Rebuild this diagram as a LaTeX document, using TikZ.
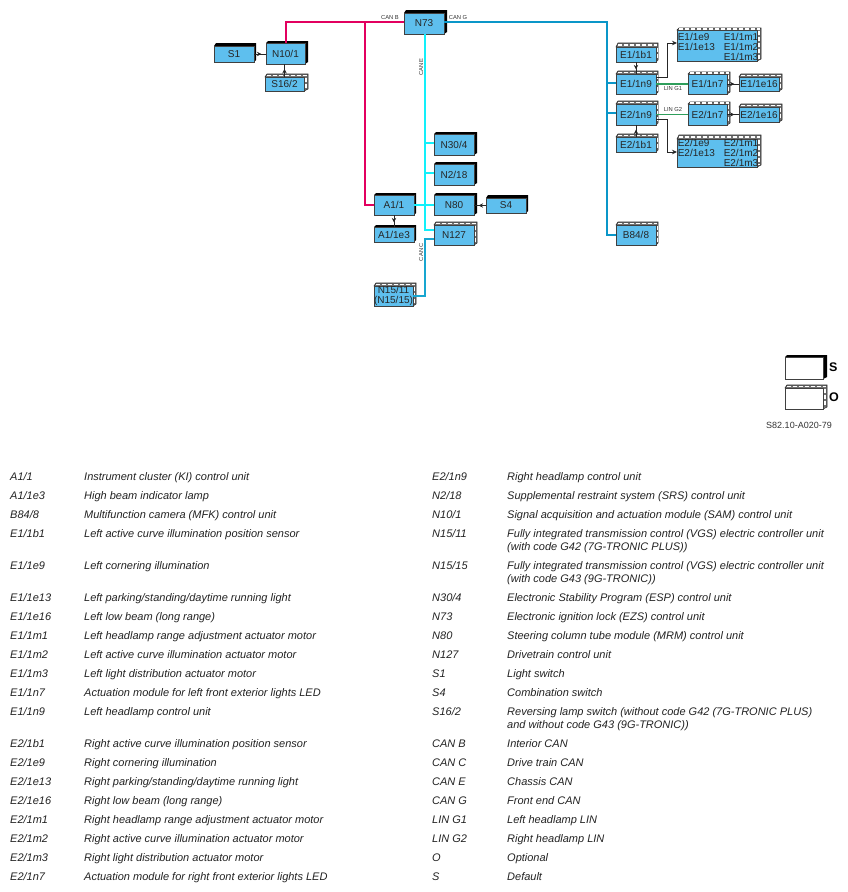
\documentclass[tikz,border=0pt]{standalone}
\usepackage{fontspec}
\setmainfont{Liberation Sans}
\usetikzlibrary{arrows.meta,decorations.markings}
\definecolor{boxblue}{HTML}{5EBFEE}
\definecolor{canb}{HTML}{E2005F}
\definecolor{cane}{HTML}{12F0FA}
\definecolor{cang}{HTML}{0A96C8}
\definecolor{canc}{HTML}{18A6D0}
\definecolor{lin}{HTML}{2E9E5B}
\definecolor{legtext}{HTML}{222222}
\tikzset{
  face/.style={draw=black!75,line width=.6pt,inner sep=0pt,outer sep=0pt,align=center,font=\fontsize{10}{10}\selectfont,text=black!85},
  sdepth/.style={fill=black},
  odepth/.style={fill=black!55,draw=black!85,line width=.6pt},
  hatch/.style={draw=white,line width=1.5pt,dash pattern=on 3.5pt off 2.5pt},
  canbline/.style={draw=canb,line width=2.3pt},
  caneline/.style={draw=cane,line width=2.3pt},
  cangline/.style={draw=cang,line width=2.3pt},
  cancline/.style={draw=canc,line width=2.3pt},
  linline/.style={draw=lin,line width=1.4pt},
  sig/.style={draw=black!85,line width=.8pt},
  sigmid/.style={sig,postaction={decorate},decoration={markings,mark=at position .62 with {\arrow{Stealth[length=4.5pt,width=4.5pt]}}}},
  sigend/.style={sig,-{Stealth[length=5pt,width=4.5pt]}},
  buslabel/.style={font=\fontsize{5.8}{6}\selectfont,text=black!80,inner sep=0pt},
  bigtext/.style={inner sep=0pt,font=\fontsize{10}{10}\selectfont,text=black!85},
  legkey/.style={anchor=base west,inner sep=0pt,font=\fontsize{11}{13}\selectfont\itshape,text=legtext},
  legdesc/.style={anchor=base west,inner sep=0pt,font=\fontsize{11}{13}\selectfont\itshape,text=legtext},
}
\newcommand{\devS}[8][boxblue]{%
  \fill[sdepth] (#3,#4) -- ({#3+2},#7) -- (#8,#7) -- (#8,{#6-2}) -- (#5,#6) -- cycle;%
  \devfaceB{#2}{#3}{#4}{#5}{#6}{#1}%
}
\newcommand{\devO}[8][boxblue]{%
  \filldraw[odepth] (#3,#4) -- ({#3+2},#7) -- (#8,#7) -- (#8,{#6-2}) -- (#5,#6) -- cycle;%
  \draw[hatch] ({#3+2},{(#7+#4)/2}) -- ({#8-1},{(#7+#4)/2});%
  \draw[hatch] ({(#8+#5)/2},{#4+1}) -- ({(#8+#5)/2},{#6-2});%
  \devfaceB{#2}{#3}{#4}{#5}{#6}{#1}%
}
\newcommand{\devfaceB}[6]{\node[face,fill=#6,minimum width={(#4-#2)*1pt},minimum height={(#5-#3)*1pt}] (#1) at ({(#2+#4)/2},{(#3+#5)/2})}
\newcount\legn
\newcommand{\legrow}[5]{\global\advance\legn by 1
  \node[legkey] (key\the\legn) at (#1,{#3+4}) {#4};
  \node[legdesc] (desc\the\legn) at (#2,{#3+4}) {\begin{tabular}[t]{@{}l@{}}#5\end{tabular}};}
\begin{document}
\begin{tikzpicture}[x=1pt,y=-1pt]
\useasboundingbox (0,0) rectangle (848,892);
\devS{n73}{404}{13}{444}{34}{10}{447} {N73};
\devS{s1}{214}{46}{254}{62}{43}{256} {S1};
\devS{n10}{266}{43}{305}{64}{41}{308} {N10/1};
\devO{s162}{265}{77}{304}{91}{74}{308} {S16/2};
\devS{n304}{434}{134}{474}{155}{132}{477} {N30/4};
\devS{n218}{434}{164}{474}{185}{162}{477} {N2/18};
\devS{a1}{374}{195}{414}{215}{193}{416} {A1/1};
\devS{a1e}{374}{227}{414}{242}{225}{416} {A1/1e3};
\devS{n80}{434}{195}{474}{215}{193}{477} {N80};
\devS{s4}{486}{198}{526}{213}{195}{528} {S4};
\devO{n127}{434}{225}{474}{245}{222}{477} {N127};
\devO{n15}{374}{286}{413}{306}{283}{416} {N15/11\\(N15/15)};
\devO{e1b}{616}{47}{656}{62}{43}{658} {E1/1b1};
\devO{e1n9}{616}{74}{656}{94}{71}{658} {E1/1n9};
\devO{e1n7}{688}{74}{727}{94}{72}{730} {E1/1n7};
\devO{e1e16}{739}{77}{779}{91}{74}{782} {E1/1e16};
\devO{e2n9}{616}{104}{656}{125}{101}{658} {E2/1n9};
\devO{e2n7}{688}{104}{727}{125}{102}{730} {E2/1n7};
\devO{e2e16}{739}{107}{779}{122}{104}{782} {E2/1e16};
\devO{e2b}{616}{137}{656}{152}{134}{658} {E2/1b1};
\devO{b84}{616}{225}{656}{245}{222}{658} {B84/8};
\devO{e1big}{677}{30}{757}{61}{28}{761} {};
\devO{e2big}{677}{139}{757}{167}{135}{761} {};
\node[bigtext] (e1bigt) at (718,48.5) {\begin{tabular}{@{}p{46pt}@{}l@{}}E1/1e9&E1/1m1\\E1/1e13&E1/1m2\\&E1/1m3\end{tabular}};
\node[bigtext] (e2bigt) at (718,154.5) {\begin{tabular}{@{}p{46pt}@{}l@{}}E2/1e9&E2/1m1\\E2/1e13&E2/1m2\\&E2/1m3\end{tabular}};
% legend boxes
\devS[white]{legs}{785}{357}{823}{379}{355}{827} {};
\devO[white]{lego}{785}{388}{823}{409}{385}{827} {};
\node[inner sep=0pt,font=\fontsize{12.5}{13}\selectfont\bfseries,anchor=west] (legsl) at (829,367) {S};
\node[inner sep=0pt,font=\fontsize{12.5}{13}\selectfont\bfseries,anchor=west] (legol) at (829,397) {O};
\node[inner sep=0pt,font=\fontsize{9}{10}\selectfont,text=black!80] (ref) at (799,425) {S82.10-A020-79};
% junctions
\coordinate (jb) at (365,22);
\coordinate (jt) at (286,22);
\coordinate (je1) at (425,143);
\coordinate (je2) at (425,173);
\coordinate (je3) at (425,205);
\coordinate (je4) at (425,230);
\coordinate (jg) at (607,22);
\coordinate (jg1) at (607,83);
\coordinate (jg2) at (607,113);
\coordinate (jc) at (425,239);
% CAN B
\draw[canbline] (jb-|n73.west) -- (jt) -- (jt|-n10.north);
\draw[canbline] (jb) |- (a1.west);
% CAN E
\draw[caneline] (je1|-n73.south) -- (je4) -- (je4-|n127.west);
\draw[caneline] (je1) -- (je1-|n304.west);
\draw[caneline] (je2) -- (je2-|n218.west);
\draw[caneline] (a1.east) -- (n80.west);
% CAN G
\draw[cangline] (jg-|n73.east) -- (jg) |- (b84.west);
\draw[cangline] (jg1) -- (jg1-|e1n9.west);
\draw[cangline] (jg2) -- (jg2-|e2n9.west);
% CAN C
\draw[cancline] (jc-|n127.west) -- (jc) |- (n15.east);
% LIN
\draw[linline] (e1n9.east) -- (e1n7.west);
\draw[linline] (e2n9.east) -- (e2n7.west);
% signal lines
\draw[sigmid] (s1.east) -- (s1.east-|n10.west);
\draw[sigmid] (s162.north) -- (s162.north|-n10.south);
\draw[sigmid] (e1b.south) -- (e1n9.north);
\draw[sigmid] (e2b.north) -- (e2n9.south);
\draw[sigmid] (a1.south) -- (a1e.north);
\draw[sigmid] (s4.west) -- (s4.west-|n80.east);
\draw[sigmid] (e1n7.east) -- (e1n7.east-|e1e16.west);
\draw[sigmid] (e2n7.east) -- (e2n7.east-|e2e16.west);
\coordinate (t1) at (667,77);
\coordinate (t2) at (667,119);
\draw[sigend] (t1-|e1n9.east) -- (t1) |- (e1big.west|-0,43);
\draw[sigend] (t2-|e2n9.east) -- (t2) |- (e2big.west|-0,152);
% bus labels
\node[buslabel] (lb) at (390,18) {CAN B};
\node[buslabel] (lg) at (458,18) {CAN G};
\node[buslabel,rotate=90] (le) at (421,67) {CAN E};
\node[buslabel,rotate=90] (lc) at (421,252) {CAN C};
\node[buslabel] (l1) at (673,88) {LIN G1};
\node[buslabel] (l2) at (673,109) {LIN G2};
% legend
\legrow{10}{84}{476}{A1/1}{Instrument cluster (KI) control unit}
\legrow{10}{84}{495}{A1/1e3}{High beam indicator lamp}
\legrow{10}{84}{514}{B84/8}{Multifunction camera (MFK) control unit}
\legrow{10}{84}{533}{E1/1b1}{Left active curve illumination position sensor}
\legrow{10}{84}{565}{E1/1e9}{Left cornering illumination}
\legrow{10}{84}{597}{E1/1e13}{Left parking/standing/daytime running light}
\legrow{10}{84}{616}{E1/1e16}{Left low beam (long range)}
\legrow{10}{84}{635}{E1/1m1}{Left headlamp range adjustment actuator motor}
\legrow{10}{84}{654}{E1/1m2}{Left active curve illumination actuator motor}
\legrow{10}{84}{673}{E1/1m3}{Left light distribution actuator motor}
\legrow{10}{84}{692}{E1/1n7}{Actuation module for left front exterior lights LED}
\legrow{10}{84}{711}{E1/1n9}{Left headlamp control unit}
\legrow{10}{84}{743}{E2/1b1}{Right active curve illumination position sensor}
\legrow{10}{84}{762}{E2/1e9}{Right cornering illumination}
\legrow{10}{84}{781}{E2/1e13}{Right parking/standing/daytime running light}
\legrow{10}{84}{800}{E2/1e16}{Right low beam (long range)}
\legrow{10}{84}{819}{E2/1m1}{Right headlamp range adjustment actuator motor}
\legrow{10}{84}{838}{E2/1m2}{Right active curve illumination actuator motor}
\legrow{10}{84}{857}{E2/1m3}{Right light distribution actuator motor}
\legrow{10}{84}{876}{E2/1n7}{Actuation module for right front exterior lights LED}
\legrow{432}{507}{476}{E2/1n9}{Right headlamp control unit}
\legrow{432}{507}{495}{N2/18}{Supplemental restraint system (SRS) control unit}
\legrow{432}{507}{514}{N10/1}{Signal acquisition and actuation module (SAM) control unit}
\legrow{432}{507}{533}{N15/11}{Fully integrated transmission control (VGS) electric controller unit\\(with code G42 (7G-TRONIC PLUS))}
\legrow{432}{507}{565}{N15/15}{Fully integrated transmission control (VGS) electric controller unit\\(with code G43 (9G-TRONIC))}
\legrow{432}{507}{597}{N30/4}{Electronic Stability Program (ESP) control unit}
\legrow{432}{507}{616}{N73}{Electronic ignition lock (EZS) control unit}
\legrow{432}{507}{635}{N80}{Steering column tube module (MRM) control unit}
\legrow{432}{507}{654}{N127}{Drivetrain control unit}
\legrow{432}{507}{673}{S1}{Light switch}
\legrow{432}{507}{692}{S4}{Combination switch}
\legrow{432}{507}{711}{S16/2}{Reversing lamp switch (without code G42 (7G-TRONIC PLUS)\\and without code G43 (9G-TRONIC))}
\legrow{432}{507}{743}{CAN B}{Interior CAN}
\legrow{432}{507}{762}{CAN C}{Drive train CAN}
\legrow{432}{507}{781}{CAN E}{Chassis CAN}
\legrow{432}{507}{800}{CAN G}{Front end CAN}
\legrow{432}{507}{819}{LIN G1}{Left headlamp LIN}
\legrow{432}{507}{838}{LIN G2}{Right headlamp LIN}
\legrow{432}{507}{857}{O}{Optional}
\legrow{432}{507}{876}{S}{Default}
\end{tikzpicture}
\end{document}
